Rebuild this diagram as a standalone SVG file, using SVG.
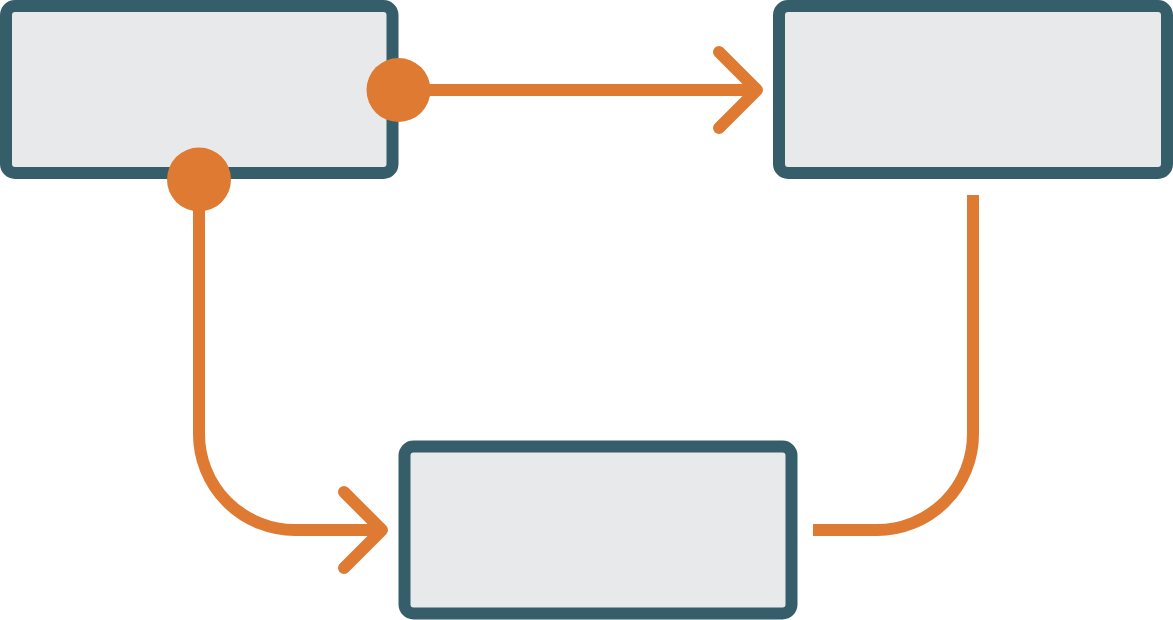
<svg xmlns="http://www.w3.org/2000/svg" width="1173" height="620" viewBox="0 0 1173 620">
<style>
.node{fill:#e8e9eb;stroke:#355e6a;stroke-width:12}
.conn{fill:none;stroke:#df7a32;stroke-width:12}
.head{fill:none;stroke:#df7a32;stroke-width:12;stroke-linecap:round;stroke-linejoin:round}
.dot{fill:#df7a32}
</style>
<rect width="1173" height="620" fill="#ffffff"/>
<g id="node-a"><rect class="node" x="6" y="6" width="386.5" height="167" rx="9"/></g>
<g id="node-b"><rect class="node" x="779" y="6" width="388" height="167" rx="9"/></g>
<g id="node-c"><rect class="node" x="404.5" y="446.5" width="387" height="167" rx="9"/></g>
<g id="connectors">
<path class="conn" d="M398 90 H757"/>
<polyline class="head" points="719,52 757,90 719,128"/>
<circle class="dot" cx="398.5" cy="90" r="32"/>
<path class="conn" d="M199 179 V434 A96 96 0 0 0 295 530 H382"/>
<polyline class="head" points="344,492 382,530 344,568"/>
<circle class="dot" cx="199" cy="179.5" r="32"/>
<path class="conn" d="M973 195 V434 A96 96 0 0 1 877 530 H813"/>
</g>
</svg>
